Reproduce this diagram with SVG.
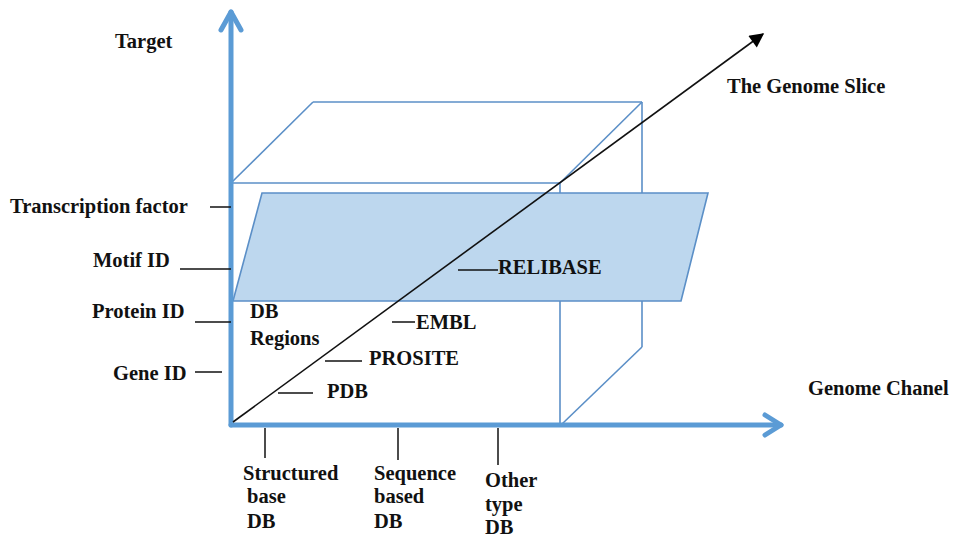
<svg xmlns="http://www.w3.org/2000/svg" width="955" height="537" viewBox="0 0 955 537">
<defs>
<marker id="ah" viewBox="0 0 10 10" refX="9" refY="5" markerWidth="10" markerHeight="9" orient="auto" markerUnits="strokeWidth">
<path d="M0,0 L10,5 L0,10 z" fill="#000"/>
</marker>
<style>
.t{font-family:"Liberation Serif","Times New Roman",serif;font-weight:bold;font-size:20.5px;fill:#111}
.box{fill:none;stroke:#5b8fc7;stroke-width:1.6}
.axis{fill:none;stroke:#5b9bd5;stroke-width:5;stroke-linecap:round;stroke-linejoin:round}
.tick{stroke:#111;stroke-width:1.5}
</style>
</defs>
<rect width="955" height="537" fill="#fff"/>
<g id="cube">
<line class="box" x1="231" y1="183" x2="560" y2="183"/>
<line class="box" x1="560" y1="183" x2="560" y2="425"/>
<line class="box" x1="231" y1="183" x2="313" y2="102"/>
<line class="box" x1="313" y1="102" x2="642" y2="102"/>
<line class="box" x1="642" y1="102" x2="560" y2="183"/>
<line class="box" x1="642" y1="102" x2="642" y2="347"/>
<line class="box" x1="642" y1="347" x2="562" y2="424"/>
</g>
<g id="plane">
<polygon points="262,193 708,193 681,301 233,301" fill="#bdd7ee" stroke="#5b8fc7" stroke-width="1.6"/>
</g>
<g id="axes">
<line class="axis" x1="231" y1="425" x2="231" y2="12"/>
<polyline class="axis" points="221,30 231,12 241,30"/>
<line class="axis" x1="231" y1="425" x2="781" y2="425"/>
<polyline class="axis" points="765,415 781,425 765,435"/>
</g>
<g id="connectors">
<line x1="233" y1="422" x2="763" y2="34" stroke="#111" stroke-width="1.6" marker-end="url(#ah)"/>
<line class="tick" x1="210" y1="207" x2="231" y2="207"/>
<line class="tick" x1="180" y1="269" x2="231" y2="269"/>
<line class="tick" x1="195" y1="322" x2="231" y2="322"/>
<line class="tick" x1="195" y1="372" x2="222" y2="372"/>
<line class="tick" x1="278" y1="393" x2="313" y2="393"/>
<line class="tick" x1="325" y1="361" x2="362" y2="361"/>
<line class="tick" x1="392" y1="322" x2="415" y2="322"/>
<line class="tick" x1="458" y1="270" x2="498" y2="270"/>
<line class="tick" x1="265" y1="428" x2="265" y2="458"/>
<line class="tick" x1="398" y1="428" x2="398" y2="460"/>
<line class="tick" x1="498" y1="428" x2="498" y2="465"/>
</g>
<g id="labels">
<text class="t" x="115" y="48">Target</text>
<text class="t" x="727" y="93">The Genome Slice</text>
<text class="t" x="808" y="395">Genome Chanel</text>
<text class="t" x="10" y="213">Transcription factor</text>
<text class="t" x="93" y="267">Motif ID</text>
<text class="t" x="92" y="318">Protein ID</text>
<text class="t" x="113" y="380">Gene ID</text>
<text class="t" x="250" y="318">DB</text>
<text class="t" x="250" y="345">Regions</text>
<text class="t" x="327" y="398">PDB</text>
<text class="t" x="369" y="365">PROSITE</text>
<text class="t" x="416" y="329">EMBL</text>
<text class="t" x="498" y="274">RELIBASE</text>
<text class="t" x="243" y="480">Structured</text>
<text class="t" x="247" y="503">base</text>
<text class="t" x="247" y="528">DB</text>
<text class="t" x="374" y="480">Sequence</text>
<text class="t" x="374" y="503">based</text>
<text class="t" x="374" y="528">DB</text>
<text class="t" x="485" y="487">Other</text>
<text class="t" x="485" y="511">type</text>
<text class="t" x="485" y="534">DB</text>
</g>
</svg>
